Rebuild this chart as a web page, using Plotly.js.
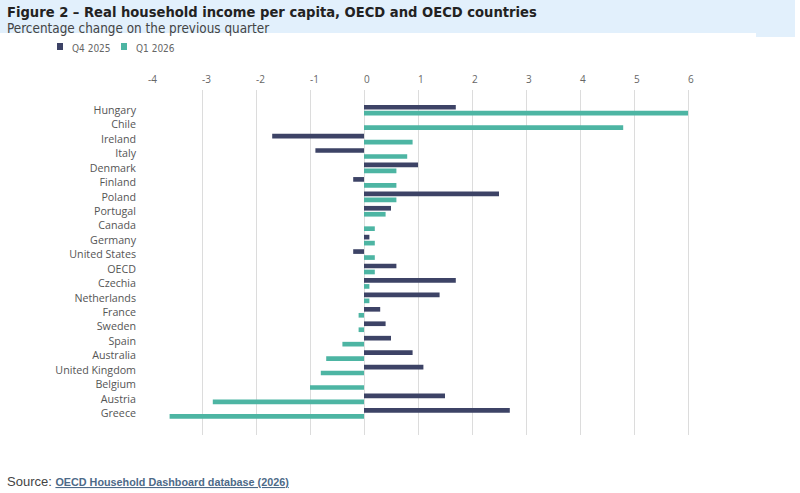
<!DOCTYPE html>
<html>
<head>
<meta charset="utf-8">
<script src="https://cdn.plot.ly/plotly-3.0.1.min.js"></script>
<style>
html,body{margin:0;padding:0;background:#fff;}
#chart{width:800px;height:493px;}
</style>
</head>
<body>
<div id="chart"></div>
<script>
const countries = ["Hungary","Chile","Ireland","Italy","Denmark","Finland","Poland","Portugal","Canada","Germany","United States","OECD","Czechia","Netherlands","France","Sweden","Spain","Australia","United Kingdom","Belgium","Austria","Greece"];
const q4_2025 = [1.7, null, -1.7, -0.9, 1.0, -0.2, 2.5, 0.5, null, 0.1, -0.2, 0.6, 1.7, 1.4, 0.3, 0.4, 0.5, 0.9, 1.1, null, 1.5, 2.7];
const q1_2026 = [6.0, 4.8, 0.9, 0.8, 0.6, 0.6, 0.6, 0.4, 0.2, 0.2, 0.2, 0.2, 0.1, 0.1, -0.1, -0.1, -0.4, -0.7, -0.8, -1.0, -2.8, -3.6];
const seriesNames = ["Q4 2025", "Q1 2026"];
const tickVals = [-4,-3,-2,-1,0,1,2,3,4,5,6,7];
const tickText = ["-4","-3","-2","-1","0","1","2","3","4","5","6",""];

const dark = "#3d4366";
const teal = "#4db5a3";
const colors = [dark, teal];

const L = 148, R = 742, T = 90, B = 435;
const W = R - L, H = B - T;
const px = x => (x - L) / W;
const py = y => (B - y) / H;

const traces = [
  {type:"bar", orientation:"h", name:seriesNames[0], y:countries, x:q4_2025, marker:{color:dark}},
  {type:"bar", orientation:"h", name:seriesNames[1], y:countries, x:q1_2026, marker:{color:teal}}
];

const shapes = [
  {type:"rect", xref:"paper", yref:"paper", x0:px(0), x1:px(795), y0:py(33), y1:py(0), fillcolor:"#e2f0fc", line:{width:0}, layer:"below"},
  {type:"rect", xref:"paper", yref:"paper", x0:px(756), x1:px(795), y0:py(37), y1:py(32), fillcolor:"#e2f0fc", line:{width:0}, layer:"below"}
];
const annotations = [
  {xref:"paper", yref:"paper", x:px(5), y:py(12), xanchor:"left", yanchor:"middle", showarrow:false,
   text:"<b>Figure 2 – Real household income per capita, OECD and OECD countries</b>",
   font:{family:"DejaVu Sans Condensed, Liberation Sans Narrow, sans-serif", size:14.6, color:"#222"}},
  {xref:"paper", yref:"paper", x:px(5), y:py(28), xanchor:"left", yanchor:"middle", showarrow:false,
   text:"Percentage change on the previous quarter",
   font:{family:"DejaVu Sans Condensed, Liberation Sans Narrow, sans-serif", size:13.4, color:"#444"}},
  {xref:"paper", yref:"paper", x:px(5), y:py(481), xanchor:"left", yanchor:"middle", showarrow:false,
   text:"Source: <span style='color:#4d6a88;font-size:10.8px'><b><u>OECD Household Dashboard database (2026)</u></b></span>",
   font:{family:"Liberation Sans, sans-serif", size:13, color:"#444"}}
];
// manual legend
const legX = [57, 121];
seriesNames.forEach((n, i) => {
  shapes.push({type:"rect", xref:"paper", yref:"paper", x0:px(legX[i]), x1:px(legX[i] + 6), y0:py(50), y1:py(43),
               fillcolor:colors[i], line:{width:0}});
  annotations.push({xref:"paper", yref:"paper", x:px(legX[i] + 13), y:py(48), xanchor:"left", yanchor:"middle",
                    showarrow:false, text:n, font:{family:"DejaVu Sans Condensed, sans-serif", size:10, color:"#666"}});
});

const layout = {
  width:800, height:493,
  margin:{l:L, r:800 - R, t:T, b:493 - B, pad:0},
  paper_bgcolor:"#fff", plot_bgcolor:"#fff",
  barmode:"group", bargap:0.17, bargroupgap:0.22,
  font:{family:"Open Sans, Noto Sans, sans-serif", color:"#555"},
  showlegend:false,
  xaxis:{range:[-4,7], side:"top", tickvals:tickVals, ticktext:tickText,
         showgrid:true, gridcolor:"#dcdcdc", gridwidth:1, zeroline:false,
         ticks:"", ticklabelposition:"outside right", ticklabelstandoff:4,
         tickfont:{size:10, color:"#666"}, showline:false, fixedrange:true},
  yaxis:{type:"category", range:[22.5,-1.4], showgrid:false, zeroline:false,
         ticks:"", tickfont:{size:10.7, color:"#555", family:"Open Sans, sans-serif"},
         ticklabelstandoff:11, showline:false, fixedrange:true},
  shapes: shapes,
  annotations: annotations
};

Plotly.newPlot("chart", traces, layout, {displayModeBar:false, staticPlot:true});
</script>
</body>
</html>
